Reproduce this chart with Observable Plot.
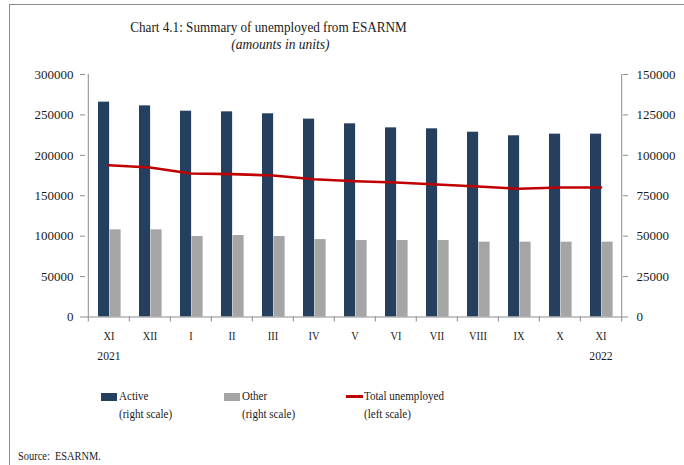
<!DOCTYPE html>
<html><head><meta charset="utf-8">
<script src="https://cdn.jsdelivr.net/npm/d3@7"></script>
<script src="https://cdn.jsdelivr.net/npm/@observablehq/plot@0.6"></script>
<style>
body{margin:0;background:#fff;}
#wrap{position:relative;width:684px;height:465px;overflow:hidden;font-family:"Liberation Serif",serif;color:#1a1a1a;}
#chart{position:absolute;left:0;top:0;}
.abs{position:absolute;white-space:nowrap;}
.leg{font-size:13px;line-height:18px;transform:scaleX(0.85);transform-origin:0 0;}
</style></head>
<body><div id="wrap">
<div class="abs" style="left:9px;top:4px;width:675px;height:1px;background:#8c8c8c"></div>
<div class="abs" style="left:9px;top:4px;width:1px;height:461px;background:#8c8c8c"></div>
<div id="chart"></div>
<div class="abs" style="left:0;top:20px;width:537px;text-align:center;font-size:15px;line-height:15px;transform:scaleX(0.877);transform-origin:268.5px 0">Chart 4.1: Summary of unemployed from ESARNM</div>
<div class="abs" style="left:0;top:37px;width:561px;text-align:center;font-size:15px;line-height:15px;font-style:italic;transform:scaleX(0.9);transform-origin:280.5px 0">(amounts in units)</div>
<div class="abs" style="left:101px;top:393px;width:16px;height:8px;background:#253F5F"></div>
<div class="abs leg" style="left:119px;top:387px">Active<br>(right scale)</div>
<div class="abs" style="left:224px;top:393px;width:16px;height:8px;background:#A5A5A5"></div>
<div class="abs leg" style="left:242px;top:387px">Other<br>(right scale)</div>
<div class="abs" style="left:346px;top:395px;width:17px;height:2.5px;background:#C00000"></div>
<div class="abs leg" style="left:364px;top:387px">Total unemployed<br>(left scale)</div>
<div class="abs leg" style="left:18px;top:447px;transform:scaleX(0.8)">Source:&nbsp; ESARNM.</div>
</div>
<script>
const periods = ["2021-11","2021-12","2022-01","2022-02","2022-03","2022-04","2022-05","2022-06","2022-07","2022-08","2022-09","2022-10","2022-11"];
const monthLabels = ["XI","XII","I","II","III","IV","V","VI","VII","VIII","IX","X","XI"];
const yearLabels = ["2021","","","","","","","","","","","","2022"];
const active = [132900,130600,127300,126900,125700,122400,119500,117000,116400,114300,112100,113100,113100];
const other = [53900,53900,49800,50400,49800,47900,47300,47300,47300,46300,46300,46300,46300];
const total = [187800,185000,177500,176700,175100,170500,168000,166400,163900,161400,158600,160200,160200];
const leftTicks = [0,50000,100000,150000,200000,250000,300000];

const data = periods.map((p,i)=>({p, label:monthLabels[i], year:yearLabels[i], active:active[i], other:other[i], total:total[i]}));
const W=684, H=370, mL=85, mR=61, mT=74, mB=53.5;
const bw = (W-mL-mR)/periods.length;
const axisGray = "#8c8c8c";
const chart = Plot.plot({
  width:W, height:H, marginLeft:mL, marginRight:mR, marginTop:mT, marginBottom:mB,
  style:{fontFamily:"Liberation Serif", fontSize:"13px", color:"#1a1a1a", background:"transparent"},
  x:{type:"band", domain:periods, padding:0, axis:null},
  y:{domain:[0,300000], axis:null},
  marks:[
    Plot.barY(data,{x:"p", y:d=>d.active*2, fill:"#253F5F", insetLeft:10, insetRight:bw-21.5}),
    Plot.barY(data,{x:"p", y:d=>d.other*2, fill:"#A5A5A5", insetLeft:21.5, insetRight:bw-33}),
    Plot.lineY(data,{x:"p", y:"total", stroke:"#C00000", strokeWidth:2.6}),
    Plot.ruleX([periods[0]],{dx:-bw/2, y1:0, y2:300000, stroke:axisGray}),
    Plot.ruleX([periods[periods.length-1]],{dx:bw/2, y1:0, y2:300000, stroke:axisGray}),
    Plot.ruleY([0],{stroke:axisGray}),
    Plot.ruleX(periods,{dx:-bw/2, y1:0, y2:0, insetBottom:-5, stroke:axisGray}),
    Plot.ruleX([periods[periods.length-1]],{dx:bw/2, y1:0, y2:0, insetBottom:-5, stroke:axisGray}),
    Plot.ruleY(leftTicks,{insetLeft:-5, insetRight:W-mL-mR, stroke:axisGray}),
    Plot.ruleY(leftTicks,{insetLeft:W-mL-mR, insetRight:-5, stroke:axisGray}),
    Plot.text(leftTicks,{y:d=>d, text:d=>String(d), frameAnchor:"left", dx:-12, textAnchor:"end", fill:"#1a1a1a"}),
    Plot.text(leftTicks,{y:d=>d, text:d=>String(d/2), frameAnchor:"right", dx:13, textAnchor:"start", fill:"#1a1a1a"}),
    Plot.text(data,{x:"p", y:0, text:"label", dy:18.5, fill:"#1a1a1a"}),
    Plot.text(data,{x:"p", y:0, text:"year", dy:38.5, fill:"#1a1a1a"})
  ]
});
document.getElementById("chart").appendChild(chart);
// condense the category and year labels horizontally, as in the reference
const groups = d3.select(chart).selectAll("g[aria-label=text]").nodes();
[[groups[2],0.8],[groups[3],0.9]].forEach(([g,s])=>{
  if(!g) return;
  d3.select(g).selectAll("text").each(function(){
    const b=this.getBBox(); const cx=b.x+b.width/2;
    const t=this.getAttribute("transform")||"";
    this.setAttribute("transform", `${t} translate(${cx},0) scale(${s},1) translate(${-cx},0)`);
  });
});
</script>
</body></html>
